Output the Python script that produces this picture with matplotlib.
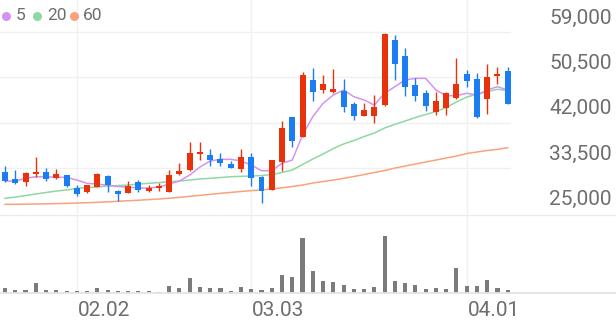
import matplotlib
matplotlib.use("Agg")
import matplotlib.pyplot as plt
from matplotlib.lines import Line2D
import numpy as np

plt.rcParams['font.family'] = ['Roboto', 'DejaVu Sans']

# ---------------- data ----------------
opens = [32800, 31400, 30800, 32350, 32800, 31550, 32200, 29700, 29050, 29950,
         32000, 29200, 28800, 30900, 29250, 29800, 29050, 32300, 33100, 36050,
         35900, 35150, 34200, 33250, 35600, 31850, 29350, 34650, 43000, 39350,
         50000, 48100, 47800, 48000, 45450, 43250, 43300, 45300, 57500, 54500,
         49050, 47600, 44050, 44800, 46650, 51050, 50200, 46450, 50700, 51700]
highs = [33900, 33100, 32750, 35550, 33400, 33250, 32200, 30250, 30350, 32600,
         32100, 29300, 31100, 31250, 30300, 30600, 33100, 34350, 38300, 38300,
         37050, 36250, 34850, 37000, 36250, 31900, 35000, 42350, 43050, 51550,
         52300, 50950, 52000, 50200, 45800, 45750, 47200, 58750, 58450, 55950,
         50300, 48100, 47800, 47700, 54050, 51850, 51250, 53000, 52450, 52350]
lows = [30900, 30500, 30100, 31750, 31100, 31450, 29950, 28300, 28850, 29950,
        28900, 27350, 28750, 29050, 29050, 29250, 29000, 32250, 33000, 35000,
        33900, 33900, 33450, 32800, 30100, 26850, 29300, 32900, 37350, 39300,
        46050, 47600, 47500, 43950, 42500, 43200, 41850, 45200, 50000, 47000,
        46050, 44200, 43400, 43400, 46500, 48750, 42950, 43550, 49200, 45450]
closes = [31050, 30600, 32600, 32650, 31400, 32350, 30100, 28600, 30300, 32350,
          30300, 28600, 30100, 29350, 29800, 30100, 32150, 32900, 36350, 36450,
          35000, 34350, 33550, 35600, 31550, 29150, 35000, 40950, 38550, 50950,
          47800, 49250, 48250, 44850, 43250, 44350, 44850, 58600, 52950, 48600,
          47000, 45150, 46050, 47600, 49200, 49800, 43000, 50600, 51050, 45500]
ma5 = [31040, 31040, 31550, 31850, 31850, 31740, 31740, 31230, 30610, 30480,
       30240, 30010, 29920, 29730, 29730, 29920, 30480, 31040, 32170, 33670,
       34800, 35120, 35120, 34800, 34050, 32980, 32980, 34370, 34980, 39670,
       43110, 45620, 47180, 48120, 46860, 46240, 45300, 47500, 48740, 49990,
       50310, 50310, 48120, 47050, 47050, 47500, 47180, 48120, 48740, 48120]
ma20 = [27800, 28040, 28320, 28610, 28890, 29170, 29360, 29670, 29820, 29920,
        30110, 30200, 30290, 30480, 30610, 30760, 30910, 31040, 31230, 31420,
        31550, 31700, 31850, 31930, 31980, 32080, 32260, 32640, 33110, 34140,
        35170, 36110, 37140, 37990, 38640, 39390, 40050, 40990, 41680, 42300,
        42960, 43520, 44080, 44830, 45870, 46800, 47310, 47800, 48250, 48020]
ma60 = [26670, 26690, 26710, 26730, 26770, 26810, 26860, 26920, 26970, 27050,
        27140, 27240, 27350, 27440, 27560, 27670, 27820, 27990, 28170, 28360,
        28550, 28740, 28910, 29080, 29240, 29390, 29540, 29770, 30010, 30290,
        30670, 30950, 31230, 31550, 31890, 32260, 32640, 33010, 33480, 33860,
        34230, 34610, 34980, 35360, 35730, 36200, 36490, 36770, 36990, 37290]
volumes = [50000, 33000, 33000, 106000, 33000, 33000, 26000, 20000, 20000, 56000,
           33000, 26000, 26000, 20000, 20000, 13000, 76000, 50000, 156000, 60000,
           50000, 56000, 26000, 66000, 40000, 33000, 50000, 183000, 166000, 556000,
           226000, 126000, 110000, 80000, 46000, 46000, 66000, 576000, 123000, 106000,
           80000, 43000, 56000, 46000, 253000, 73000, 73000, 130000, 53000, 30000]
date_ticks = [7, 24, 45]
date_labels = ['02.02', '03.03', '04.01']
price_ticks = [59000, 50500, 42000, 33500, 25000]
legend_labels = ['5', '20', '60']

# ---------------- style ----------------
UP = '#e8320c'
DOWN = '#1a7ef2'
C5, C20, C60 = '#d692f0', '#8ed8a2', '#f9a27c'
GRID = '#f0f0f0'
TXT = '#6e6e6e'

W, H = 616, 321
fig = plt.figure(figsize=(W / 100, H / 100), dpi=100)

def fx(px):
    return px / W

def fy(py):
    return 1 - py / H

plot_right = 511
ax = fig.add_axes([0, fy(214), fx(plot_right), 214 / H])
axv = fig.add_axes([0, fy(293.3), fx(plot_right), (293.3 - 215) / H])

n = len(closes)
x = np.arange(n)
xlim = (-0.49, 49.32)

for a in (ax, axv):
    a.set_xlim(*xlim)
    a.set_facecolor('none')
    for s in a.spines.values():
        s.set_visible(False)
    a.set_xticks([])
    a.set_yticks([])
    for t in date_ticks:
        a.axvline(t, color=GRID, lw=1.0, zorder=0)

ax.set_ylim(24860, 65000)
for v in price_ticks[:-1]:
    ax.axhline(v, color=GRID, lw=1.0, zorder=0)

# candles
o = np.array(opens); c = np.array(closes)
hi = np.array(highs); lo = np.array(lows)
cols = [UP if cc >= oo else DOWN for oo, cc in zip(o, c)]
ax.vlines(x, lo, hi, colors=cols, lw=1.0, zorder=3)
ax.bar(x, np.abs(c - o), bottom=np.minimum(o, c), width=0.58, color=cols,
       zorder=4, linewidth=0)

ax.plot(x, ma60, color=C60, lw=1.1, zorder=2)
ax.plot(x, ma20, color=C20, lw=1.1, zorder=2)
ax.plot(x, ma5, color=C5, lw=1.1, zorder=2)

# price labels
for v in price_ticks:
    ax.annotate(f'{v:,}', xy=(1, v), xycoords=('axes fraction', 'data'),
                xytext=(101, 14), textcoords='offset pixels',
                ha='right', va='center', fontsize=15, color=TXT,
                annotation_clip=False)

# volume
axv.set_ylim(0, 783000)
axv.bar(x, volumes, width=0.4, color='#7b7b7b', linewidth=0, zorder=3)

# date labels
for t, lab in zip(date_ticks, date_labels):
    axv.annotate(lab, xy=(t, 0), xycoords='data', xytext=(1, -17),
                 textcoords='offset pixels', ha='left', va='center',
                 fontsize=15, color=TXT, annotation_clip=False)

# full-width separator lines
fig.add_artist(Line2D([0, 1], [fy(215), fy(215)], transform=fig.transFigure,
                      color='#ececec', lw=1.0, zorder=1))
fig.add_artist(Line2D([0, 1], [fy(293.3), fy(293.3)], transform=fig.transFigure,
                      color='#e4e4e4', lw=1.3, zorder=1))

# legend
dot_x = [6, 37, 74]
txt_x = [16, 47, 83]
for dx, tx, col, lab in zip(dot_x, txt_x, [C5, C20, C60], legend_labels):
    fig.add_artist(Line2D([fx(dx)], [fy(16)], transform=fig.transFigure,
                          marker='o', markersize=6.5, color=col, lw=0,
                          markeredgewidth=0))
    fig.text(fx(tx), fy(16), lab, ha='left', va='center', fontsize=12.5,
             color=TXT)

fig.savefig('out.png', dpi=100, facecolor='white')
